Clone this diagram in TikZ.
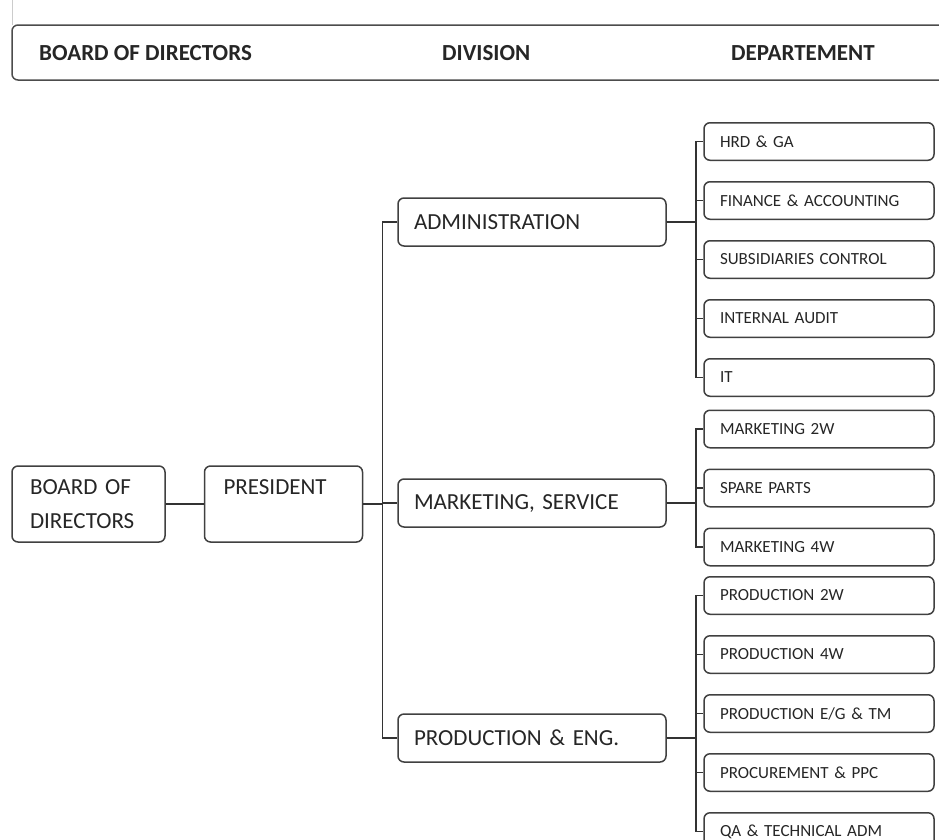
\documentclass[tikz,border=0pt]{standalone}
\usepackage{fontspec}
\setmainfont{Carlito}
\usepackage{tikz}
\usetikzlibrary{positioning}
\tikzset{
  head_text/.style={font=\fontsize{23}{28}\selectfont\bfseries, text=black!85, anchor=west, inner sep=0pt},
  board_box/.style={rectangle, draw=black!75, line width=1.5pt, rounded corners=6pt, fill=white, inner sep=0pt, text=black!85},
  top_box/.style={board_box, minimum height=76pt, align=left, font=\fontsize{23}{34}\selectfont},
  div_box/.style={board_box, minimum width=268pt, minimum height=48pt, text width=236pt, align=left, font=\fontsize{23}{28}\selectfont},
  dept_box/.style={board_box, minimum width=230pt, minimum height=37.5pt, text width=198pt, align=left, font=\fontsize{17}{20}\selectfont},
  link/.style={-, draw=black!80, line width=1.5pt},
  frame_line/.style={draw=black!70, line width=1.5pt, rounded corners=6pt}
}
\begin{document}
\begin{tikzpicture}[x=1pt, y=-1pt]
  \useasboundingbox (0,0) rectangle (939,839);

  % Header strip
  \draw[black!20, line width=0.8pt] (12,0) -- (12,25);
  \draw[frame_line] (950,25) -| (12,80) -- (950,80);
  \node (h_board) [head_text] at (39,53) {BOARD OF DIRECTORS};
  \node (h_div) [head_text] at (442,53) {DIVISION};
  \node (h_dept) [head_text] at (731,53) {DEPARTEMENT};

  % Board and president
  \node (bod) [top_box, minimum width=153pt, text width=117pt] at (88.5,504) {BOARD OF\\DIRECTORS};
  \node (pres) [top_box, minimum width=158pt, text width=120pt, right=38pt of bod] {PRESIDENT\\\mbox{}};

  % Divisions
  \node (adm) [div_box] at (532,222) {ADMINISTRATION};
  \node (mkt) [div_box] at (532,503) {MARKETING, SERVICE};
  \node (prod) [div_box] at (532,738) {PRODUCTION \& ENG.};

  % Departements
  \node (hrd) [dept_box] at (819,141.5) {HRD \& GA};
  \node (fin) [dept_box, below=20pt of hrd] {FINANCE \& ACCOUNTING};
  \node (sub) [dept_box, below=20pt of fin] {SUBSIDIARIES CONTROL};
  \node (ia) [dept_box, below=20pt of sub] {INTERNAL AUDIT};
  \node (it) [dept_box, below=20pt of ia] {IT};

  \node (m2w) [dept_box] at (819,429) {MARKETING 2W};
  \node (sp) [dept_box, below=20pt of m2w] {SPARE PARTS};
  \node (m4w) [dept_box, below=20pt of sp] {MARKETING 4W};

  \node (p2w) [dept_box] at (819,595.5) {PRODUCTION 2W};
  \node (p4w) [dept_box, below=20pt of p2w] {PRODUCTION 4W};
  \node (eg) [dept_box, below=20pt of p4w] {PRODUCTION E/G \& TM};
  \node (proc) [dept_box, below=20pt of eg] {PROCUREMENT \& PPC};
  \node (qa) [dept_box, below=20pt of proc] {QA \& TECHNICAL ADM};

  % Connections
  \draw[link] (bod) -- (pres);
  \coordinate (hub) at ([xshift=19pt]pres.east);
  \draw[link] (pres.east) -- (hub);
  \draw[link] (adm.west) -| (hub) |- (prod.west);
  \draw[link] (hub |- mkt.west) -- (mkt.west);

  \foreach \div/\deps in {adm/{hrd,fin,sub,ia,it}, mkt/{m2w,sp,m4w}, prod/{p2w,p4w,eg,proc,qa}} {
    \foreach \d in \deps {
      \draw[link] (\div.east) -- ++(29pt,0) |- (\d.west);
    }
  }
\end{tikzpicture}
\end{document}
